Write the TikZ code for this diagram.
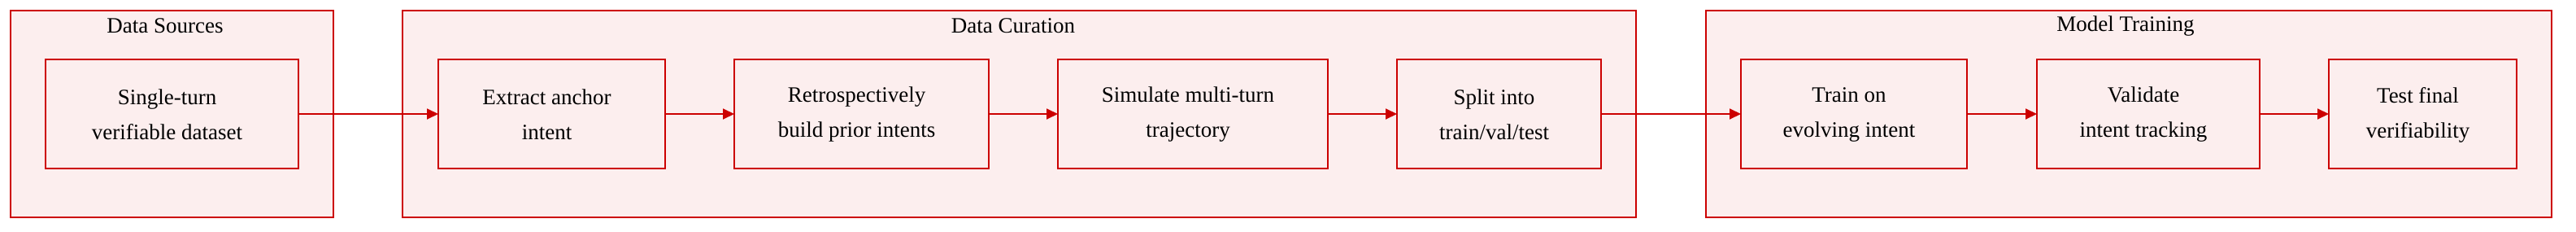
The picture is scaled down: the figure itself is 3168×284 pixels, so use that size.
\documentclass[tikz,border=0pt]{standalone}
\usepackage{fontspec}
\setmainfont{Liberation Serif}
\usetikzlibrary{arrows.meta}
\definecolor{boxred}{RGB}{204,0,0}
\definecolor{boxfill}{RGB}{252,238,238}
\tikzset{
  px/.style={x=0.5pt,y=-0.5pt},
  group/.style={draw=boxred,fill=boxfill,line width=0.9pt,inner sep=0pt,outer sep=0pt},
  stepbox/.style={draw=boxred,fill=boxfill,line width=0.9pt,inner sep=0pt,outer sep=0pt,minimum height=67pt},
  lbl/.style={align=center,font=\fontsize{13.5}{21.5}\selectfont,text=black,xshift=-3pt,yshift=-0.5pt},
  title/.style={font=\fontsize{13.5}{16}\selectfont,text=black},
  flow/.style={draw=boxred,line width=0.9pt,-{Triangle[length=7pt,width=6.5pt]}}
}
\begin{document}
\begin{tikzpicture}[px]
\useasboundingbox (0,0) rectangle (3168,284);
% groups
\node[group,minimum width=198.5pt,minimum height=127pt] (gsrc) at (211.5,140) {};
\node[group,minimum width=758.5pt,minimum height=127pt] (gcur) at (1253.5,140) {};
\node[group,minimum width=520pt,minimum height=127pt] (gtrn) at (2618,140) {};
\node[title] (tsrc) at (203,32) {Data Sources};
\node[title] (tcur) at (1246,32) {Data Curation};
\node[title] (ttrn) at (2614,32) {Model Training};
% steps
\node[stepbox,minimum width=155.5pt,label={[lbl]center:Single-turn\\verifiable dataset}] (s1) at (211.5,140) {};
\node[stepbox,minimum width=139.5pt,label={[lbl]center:Extract anchor\\intent}] (c1) at (678.5,140) {};
\node[stepbox,minimum width=156.5pt,label={[lbl]center:Retrospectively\\build prior intents}] (c2) at (1059.5,140) {};
\node[stepbox,minimum width=166pt,label={[lbl]center:Simulate multi-turn\\trajectory}] (c3) at (1467,140) {};
\node[stepbox,minimum width=125.5pt,label={[lbl]center:Split into\\train/val/test}] (c4) at (1843.5,140) {};
\node[stepbox,minimum width=139pt,label={[lbl]center:Train on\\evolving intent}] (t1) at (2280,140) {};
\node[stepbox,minimum width=137pt,label={[lbl]center:Validate\\intent tracking}] (t2) at (2642,140) {};
\node[stepbox,minimum width=115.5pt,label={[lbl]center:Test final\\verifiability}] (t3) at (2979.5,140) {};
% connectors
\draw[flow] (s1.east) -- (c1.west);
\draw[flow] (c1.east) -- (c2.west);
\draw[flow] (c2.east) -- (c3.west);
\draw[flow] (c3.east) -- (c4.west);
\draw[flow] (c4.east) -- (t1.west);
\draw[flow] (t1.east) -- (t2.west);
\draw[flow] (t2.east) -- (t3.west);
\end{tikzpicture}
\end{document}
